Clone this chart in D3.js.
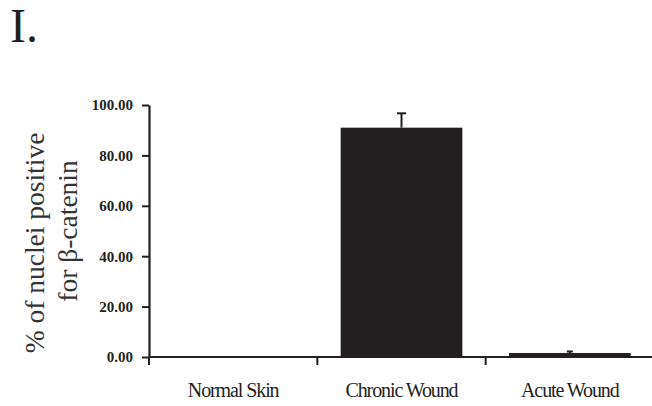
<!DOCTYPE html>
<html>
<head>
<meta charset="utf-8">
<script src="https://cdn.jsdelivr.net/npm/d3@7"></script>
<style>
  html, body { margin: 0; padding: 0; background: #fff; }
  svg { display: block; }
</style>
</head>
<body>
<svg id="chart" width="652" height="406"></svg>
<script>
const categories = ["Normal Skin", "Chronic Wound", "Acute Wound"];
const values = [0, 91.0, 1.6];
const errors = [0, 5.7, 0.6];
const yTicks = [0, 20, 40, 60, 80, 100];
const panelLabel = "I.";
const yLabelLines = ["% of nuclei positive", "for β-catenin"];

const svg = d3.select("#chart");
const ink = "#231f20";
const serif = "'Liberation Serif', 'Times New Roman', serif";

const x = d3.scaleBand().domain(categories).range([149, 654])
  .paddingInner(0.277).paddingOuter(0.1385);
const y = d3.scaleLinear().domain([0, 100]).range([357, 105]);

// panel label
svg.append("text").attr("x", 10).attr("y", 42)
  .attr("font-family", serif).attr("font-size", 48).attr("fill", ink)
  .text(panelLabel);

// bars
svg.selectAll("rect.bar").data(categories).enter().append("rect")
  .attr("class", "bar")
  .attr("x", d => x(d))
  .attr("width", x.bandwidth())
  .attr("y", (d, i) => y(values[i]))
  .attr("height", (d, i) => y(0) - y(values[i]))
  .attr("fill", ink);

// error bars (upper only)
const eb = svg.append("g").attr("stroke", ink).attr("stroke-width", 2);
categories.forEach((c, i) => {
  if (errors[i] <= 0) return;
  const cx = x(c) + x.bandwidth() / 2;
  const capW = values[i] > 10 ? 4.5 : 3;
  eb.append("line").attr("x1", cx).attr("x2", cx)
    .attr("y1", y(values[i])).attr("y2", y(values[i] + errors[i]));
  eb.append("line").attr("x1", cx - capW).attr("x2", cx + capW)
    .attr("y1", y(values[i] + errors[i])).attr("y2", y(values[i] + errors[i]));
});

// y axis
const yAxis = svg.append("g").attr("transform", "translate(149,0)")
  .call(d3.axisLeft(y).tickValues(yTicks).tickFormat(d3.format(".2f"))
    .tickSizeInner(7).tickSizeOuter(0).tickPadding(9));
yAxis.select(".domain").attr("stroke", ink).attr("stroke-width", 2.2);
yAxis.selectAll(".tick line").attr("stroke", ink).attr("stroke-width", 2);
yAxis.selectAll(".tick text")
  .attr("font-family", serif).attr("font-size", 15).attr("font-weight", "bold")
  .attr("fill", ink);

// x axis with ticks at band boundaries
const xAxis = svg.append("g").attr("transform", "translate(0,357)");
xAxis.append("line").attr("x1", 149).attr("x2", 652).attr("y1", 0).attr("y2", 0)
  .attr("stroke", ink).attr("stroke-width", 2.2);
const bounds = categories.map(c => x(c) - x.step() * x.paddingInner() / 2);
xAxis.selectAll("line.tk").data(bounds).enter().append("line")
  .attr("class", "tk")
  .attr("x1", d => d).attr("x2", d => d).attr("y1", 0).attr("y2", 8)
  .attr("stroke", ink).attr("stroke-width", 2);
xAxis.selectAll("text.cat").data(categories).enter().append("text")
  .attr("class", "cat")
  .attr("x", d => x(d) + x.bandwidth() / 2)
  .attr("y", 40)
  .attr("text-anchor", "middle")
  .attr("font-family", serif).attr("font-size", 20)
  .attr("letter-spacing", -1.1)
  .attr("fill", ink)
  .text(d => d);

// y label
const ylab = [{t: yLabelLines[0], x: 44, y: 243}, {t: yLabelLines[1], x: 77, y: 231}];
svg.selectAll("text.ylab").data(ylab).enter().append("text")
  .attr("class", "ylab")
  .attr("transform", d => `translate(${d.x},${d.y}) rotate(-90)`)
  .attr("text-anchor", "middle")
  .attr("font-family", serif).attr("font-size", 27.5)
  .attr("fill", "#333")
  .text(d => d.t);
</script>
</body>
</html>
